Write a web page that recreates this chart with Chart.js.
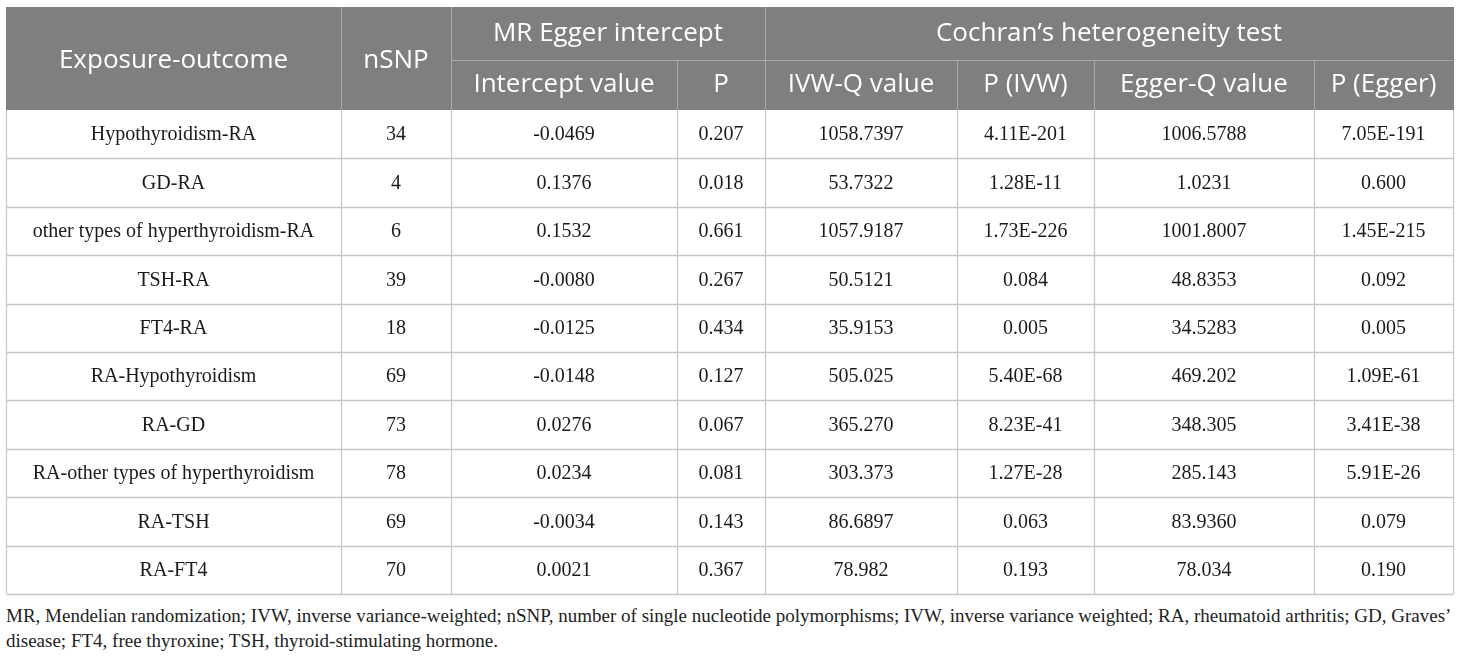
<!DOCTYPE html>
<html>
<head>
<meta charset="utf-8">
<script src="https://cdn.jsdelivr.net/npm/chart.js@4"></script>
<style>
  body { margin: 0; background: #fff; }
  #wrap { position: relative; width: 1460px; height: 600px; }
  #note {
    font-family: "Liberation Serif", "Times New Roman", serif;
    font-size: 19px;
    color: #222;
    margin: 3px 0 0 6px;
    line-height: 25px;
    white-space: nowrap;
  }
</style>
</head>
<body>
<div id="wrap"><canvas id="table-chart"></canvas></div>
<div id="note">MR, Mendelian randomization; IVW, inverse variance-weighted; nSNP, number of single nucleotide polymorphisms; IVW, inverse variance weighted; RA, rheumatoid arthritis; GD, Graves’<br>disease; FT4, free thyroxine; TSH, thyroid-stimulating hormone.</div>
<script>
// данные таблицы
const exposureOutcome = [
    'Hypothyroidism-RA', 'GD-RA', 'other types of hyperthyroidism-RA', 'TSH-RA', 'FT4-RA',
    'RA-Hypothyroidism', 'RA-GD', 'RA-other types of hyperthyroidism', 'RA-TSH', 'RA-FT4'
];
const nSNP = [34, 4, 6, 39, 18, 69, 73, 78, 69, 70];
const interceptValue = ['-0.0469', '0.1376', '0.1532', '-0.0080', '-0.0125', '-0.0148', '0.0276', '0.0234', '-0.0034', '0.0021'];
const interceptP = ['0.207', '0.018', '0.661', '0.267', '0.434', '0.127', '0.067', '0.081', '0.143', '0.367'];
const ivwQ = ['1058.7397', '53.7322', '1057.9187', '50.5121', '35.9153', '505.025', '365.270', '303.373', '86.6897', '78.982'];
const ivwP = ['4.11E-201', '1.28E-11', '1.73E-226', '0.084', '0.005', '5.40E-68', '8.23E-41', '1.27E-28', '0.063', '0.193'];
const eggerQ = ['1006.5788', '1.0231', '1001.8007', '48.8353', '34.5283', '469.202', '348.305', '285.143', '83.9360', '78.034'];
const eggerP = ['7.05E-191', '0.600', '1.45E-215', '0.092', '0.005', '1.09E-61', '3.41E-38', '5.91E-26', '0.079', '0.190'];

const groupHeaders = ['MR Egger intercept', 'Cochran’s heterogeneity test'];
const columnHeaders = ['Exposure-outcome', 'nSNP', 'Intercept value', 'P', 'IVW-Q value', 'P (IVW)', 'Egger-Q value', 'P (Egger)'];

// разметка (не данные)
const colWidths = [335, 110, 226, 88, 192, 137, 220, 139];
const headerRowHeights = [53, 50];
const colEdges = colWidths.reduce((acc, w) => { acc.push(acc[acc.length - 1] + w); return acc; }, [0]);
const tableWidth = colEdges[colEdges.length - 1];

/**
 * Рисует таблицу по шкалам графика.
 */
const tablePlugin = {
    id: 'tablePlugin',
    afterDraw(chart) {
        const ctx = chart.ctx;
        const xs = chart.scales.x;
        const ys = chart.scales.y;
        const area = chart.chartArea;
        const px = v => Math.round(xs.getPixelForValue(v)) + 0.5;
        const band = area.height / exposureOutcome.length;
        const left = px(0), right = px(tableWidth);
        const headTop = area.top - headerRowHeights[0] - headerRowHeights[1];
        const headMid = headTop + headerRowHeights[0];
        const headBot = area.top;

        ctx.save();
        // шапка
        ctx.fillStyle = '#7f7f7f';
        ctx.fillRect(left - 0.5, headTop, right - left + 1, headBot - headTop);
        ctx.strokeStyle = '#a9a9a9';
        ctx.lineWidth = 1;
        ctx.beginPath();
        ctx.moveTo(px(colEdges[2]), Math.round(headMid) + 0.5);
        ctx.lineTo(right, Math.round(headMid) + 0.5);
        [1, 2, 4].forEach(c => {
            ctx.moveTo(px(colEdges[c]), headTop);
            ctx.lineTo(px(colEdges[c]), headBot);
        });
        [3, 5, 6, 7].forEach(c => {
            ctx.moveTo(px(colEdges[c]), headMid);
            ctx.lineTo(px(colEdges[c]), headBot);
        });
        ctx.stroke();

        ctx.fillStyle = '#ffffff';
        ctx.font = '26px "Open Sans", sans-serif';
        ctx.textAlign = 'center';
        ctx.textBaseline = 'middle';
        const cx = c => xs.getPixelForValue((colEdges[c] + colEdges[c + 1]) / 2);
        ctx.fillText(columnHeaders[0], cx(0), (headTop + headBot) / 2 + 2);
        ctx.fillText(columnHeaders[1], cx(1), (headTop + headBot) / 2 + 2);
        ctx.fillText(groupHeaders[0], xs.getPixelForValue((colEdges[2] + colEdges[4]) / 2), (headTop + headMid) / 2);
        ctx.fillText(groupHeaders[1], xs.getPixelForValue((colEdges[4] + colEdges[8]) / 2), (headTop + headMid) / 2);
        for (let c = 2; c < 8; c++) {
            ctx.fillText(columnHeaders[c], cx(c), (headMid + headBot) / 2);
        }

        // тело таблицы
        ctx.strokeStyle = '#c8c8c8';
        ctx.lineWidth = 1.3;
        ctx.beginPath();
        for (let i = 0; i < exposureOutcome.length; i++) {
            const yb = Math.round(ys.getPixelForValue(i) + band / 2) + 0.5;
            ctx.moveTo(left, yb);
            ctx.lineTo(right, yb);
        }
        colEdges.forEach(e => {
            ctx.moveTo(px(e), headBot);
            ctx.lineTo(px(e), area.bottom);
        });
        ctx.stroke();

        const columns = [exposureOutcome, nSNP, interceptValue, interceptP, ivwQ, ivwP, eggerQ, eggerP];
        ctx.fillStyle = '#1a1a1a';
        ctx.font = '20px "Liberation Serif", "Times New Roman", serif';
        exposureOutcome.forEach((_, i) => {
            const y = ys.getPixelForValue(i) + 1;
            columns.forEach((col, c) => {
                ctx.fillText(String(col[i]), cx(c), y);
            });
        });
        ctx.restore();
    }
};

document.addEventListener('DOMContentLoaded', function() {
    const canvas = document.getElementById('table-chart');
    new Chart(canvas, {
        type: 'bar',
        data: {
            labels: exposureOutcome,
            datasets: []
        },
        options: {
            indexAxis: 'y',
            responsive: true,
            maintainAspectRatio: false,
            animation: false,
            layout: {
                padding: { left: 6, right: 7, top: 110, bottom: 6 }
            },
            plugins: {
                legend: { display: false },
                tooltip: { enabled: false }
            },
            scales: {
                x: { type: 'linear', min: 0, max: tableWidth, display: false },
                y: { type: 'category', offset: true, display: false }
            }
        },
        plugins: [tablePlugin]
    });
});
</script>
</body>
</html>
